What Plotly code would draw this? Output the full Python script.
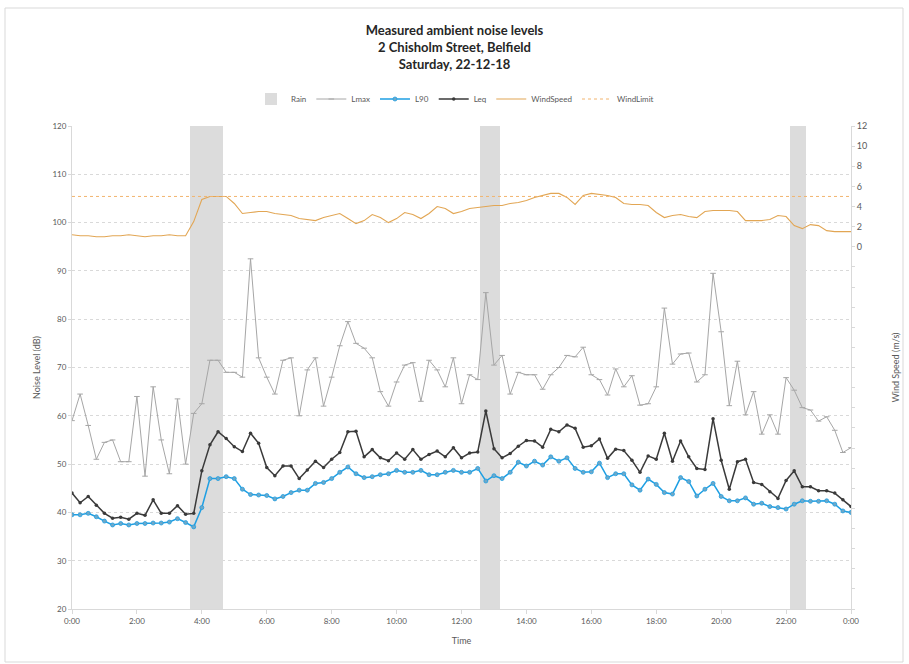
import plotly.graph_objects as go

# 15-minute intervals across the day, 0:00 to 24:00
hours = [i * 0.25 for i in range(97)]

lmax = [59, 64.5, 58, 51, 54.5, 55, 50.5, 50.5, 64, 47.5,
        66, 55, 48, 63.5, 50, 60.5, 62.5, 71.5, 71.5, 69,
        69, 68, 92.5, 72, 68, 64.5, 71.5, 72, 60, 69.5,
        72, 62, 68, 74.5, 79.5, 75, 74, 72, 65, 62,
        67, 70.5, 71, 63, 71.5, 69.5, 66, 72, 62.5, 68.5,
        67.5, 85.5, 70.5, 72.5, 64.5, 69, 68.5, 68.5, 65.5, 68.5,
        70, 72.5, 72.2, 74.2, 68.5, 67.5, 64.3, 69.7, 66, 68.3,
        62.2, 62.5, 66, 82.3, 70.7, 72.8, 73, 67, 68.5, 89.5,
        77.4, 62.1, 71.3, 60.2, 65, 56.2, 60.2, 56.2, 67.9, 65.3,
        61.7, 61.2, 58.9, 59.8, 57, 52.4, 53.4]

leq = [44, 42, 43.3, 41.5, 39.8, 38.8, 39, 38.6, 39.8, 39.4,
       42.6, 39.8, 39.8, 41.4, 39.6, 39.8, 48.6, 54, 56.7, 55.3,
       53.6, 52.6, 56.4, 54.3, 49.3, 47.6, 49.6, 49.6, 47, 48.8,
       50.6, 49.3, 51, 52.4, 56.7, 56.8, 51.5, 53, 51.3, 50.7,
       52.3, 51, 53, 51, 52, 52.7, 51.5, 53.4, 51.3, 52.3,
       52.5, 61, 53.2, 51.3, 52.2, 53.7, 54.9, 54.8, 53.5, 57.2,
       56.7, 58.1, 57.4, 53.5, 53.8, 55.2, 51.2, 53.1, 52.8, 50.8,
       48.3, 51.7, 51, 56.4, 50.6, 54.8, 51.5, 49.1, 48.9, 59.4,
       50.8, 44.8, 50.5, 51, 46.2, 45.8, 44.3, 42.9, 46.6, 48.6,
       45.3, 45.3, 44.5, 44.5, 44, 42.6, 41.2]

l90 = [39.5, 39.5, 39.8, 39.1, 38.2, 37.4, 37.7, 37.4, 37.7, 37.7,
       37.8, 37.8, 38, 38.7, 37.9, 37, 41, 47, 47, 47.4,
       47, 44.8, 43.7, 43.6, 43.5, 42.8, 43.3, 44.1, 44.6, 44.6,
       46, 46.2, 47, 48.3, 49.4, 48, 47.2, 47.4, 47.8, 48,
       48.7, 48.3, 48.3, 48.7, 47.8, 47.8, 48.3, 48.7, 48.3, 48.3,
       49.1, 46.5, 47.6, 47, 48.3, 50.4, 49.6, 50.6, 49.8, 51.5,
       50.6, 51.3, 49.1, 48.3, 48.4, 50.2, 47.2, 48, 48, 45.7,
       44.6, 46.9, 45.8, 44.1, 43.8, 47.2, 46.4, 43.4, 44.8, 46,
       43.3, 42.4, 42.4, 43, 41.7, 41.9, 41.2, 41, 40.7, 41.7,
       42.4, 42.3, 42.3, 42.4, 41.7, 40.3, 40]

wind_speed = [1.2, 1.1, 1.1, 1.0, 1.0, 1.1, 1.1, 1.2, 1.1, 1.0,
              1.1, 1.1, 1.2, 1.1, 1.1, 2.5, 4.7, 5.0, 5.0, 5.0,
              4.3, 3.3, 3.4, 3.5, 3.5, 3.3, 3.2, 3.1, 2.8, 2.7,
              2.6, 2.9, 3.1, 3.3, 2.8, 2.3, 2.6, 3.2, 2.9, 2.4,
              2.8, 3.4, 3.2, 2.8, 3.3, 4.0, 3.8, 3.3, 3.5, 3.8,
              3.9, 4.0, 4.1, 4.1, 4.3, 4.4, 4.6, 4.9, 5.1, 5.3,
              5.3, 4.9, 4.2, 5.1, 5.3, 5.2, 5.1, 4.9, 4.3, 4.2,
              4.2, 4.1, 3.4, 2.9, 3.1, 3.2, 3.0, 2.9, 3.5, 3.6,
              3.6, 3.6, 3.5, 2.6, 2.6, 2.6, 2.7, 3.1, 3.0, 2.1,
              1.8, 2.2, 2.1, 1.6, 1.5, 1.5, 1.5]

wind_limit = [5.0] * len(hours)

# rain periods (hours of the day)
rain_start = [3.62, 12.57, 22.12]
rain_end = [4.65, 13.20, 22.62]

tick_hours = list(range(0, 25, 2))
tick_labels = ["0:00", "2:00", "4:00", "6:00", "8:00", "10:00", "12:00",
               "14:00", "16:00", "18:00", "20:00", "22:00", "0:00"]

FONT = "Lato, 'Open Sans', sans-serif"
GREY_TXT = "#595959"

# plot area in pixels
L, R, T, B = 72, 851, 126, 609
W, H = 909, 664
PW, PH = R - L, B - T

fig = go.Figure()

# Rain shading as full-height columns
fig.add_trace(go.Bar(
    name="Rain",
    x=[(s + e) / 2 for s, e in zip(rain_start, rain_end)],
    width=[e - s for s, e in zip(rain_start, rain_end)],
    y=[100] * len(rain_start), base=20,
    marker=dict(color="#DCDCDC", line=dict(width=0)),
    yaxis="y",
))

fig.add_trace(go.Scatter(
    name="Lmax", x=hours, y=lmax, mode="lines+markers",
    line=dict(color="#A6A6A6", width=1),
    marker=dict(symbol="line-ew", size=4, color="#A6A6A6",
                line=dict(color="#A6A6A6", width=1)),
))

fig.add_trace(go.Scatter(
    name="L90", x=hours, y=l90, mode="lines+markers",
    line=dict(color="#1E9FE3", width=1.5),
    marker=dict(symbol="circle", size=4, color="#6FA8C8",
                line=dict(color="#1E9FE3", width=0.8)),
))

fig.add_trace(go.Scatter(
    name="Leq", x=hours, y=leq, mode="lines+markers",
    line=dict(color="#3A3A3A", width=1.5),
    marker=dict(symbol="circle", size=3.5, color="#3A3A3A"),
))

fig.add_trace(go.Scatter(
    name="WindSpeed", x=hours, y=wind_speed, mode="lines",
    line=dict(color="#E2A654", width=1.1),
    yaxis="y2",
))

fig.add_trace(go.Scatter(
    name="WindLimit", x=hours, y=wind_limit, mode="lines",
    line=dict(color="#F2B46E", width=1, dash="dot"),
    yaxis="y2",
))

right_ticks = list(range(-36, 13, 2))
right_text = [str(v) if v >= 0 else "" for v in right_ticks]

fig.update_layout(
    width=W, height=H,
    margin=dict(l=L, r=W - R, t=T, b=H - B, autoexpand=False),
    paper_bgcolor="white", plot_bgcolor="white",
    font=dict(family=FONT, size=8, color=GREY_TXT),
    bargap=0,
    title=dict(
        text="<b>Measured ambient noise levels<br>2 Chisholm Street, Belfield<br>Saturday, 22-12-18</b>",
        x=0.5, xref="container", xanchor="center",
        y=1 - 35 / H, yref="container", yanchor="top",
        font=dict(family=FONT, size=13, color="#262626"),
    ),
    legend=dict(
        orientation="h", x=(455 - L) / PW, xanchor="center",
        y=1 + (T - 99) / PH, yanchor="middle",
        font=dict(size=8, color=GREY_TXT),
        bgcolor="rgba(0,0,0,0)",
    ),
    xaxis=dict(
        range=[0, 24], tickvals=tick_hours, ticktext=tick_labels,
        tickangle=0,
        showgrid=False, zeroline=False,
        showline=True, linecolor="#D9D9D9", linewidth=1,
        ticks="outside", ticklen=4, tickcolor="#D9D9D9",
        title=dict(text="Time", font=dict(size=9, color=GREY_TXT), standoff=13),
        tickfont=dict(size=8, color=GREY_TXT),
    ),
    yaxis=dict(
        range=[20, 120], dtick=10, tick0=20,
        showgrid=True, gridcolor="#D9D9D9", griddash="dot", gridwidth=1,
        zeroline=False,
        showline=True, linecolor="#D9D9D9", linewidth=1,
        ticks="outside", ticklen=3, tickcolor="#D9D9D9",
        title=dict(text="Noise Level (dB)", font=dict(size=9, color=GREY_TXT), standoff=10),
        tickfont=dict(size=8, color=GREY_TXT),
    ),
    yaxis2=dict(
        overlaying="y", side="right",
        range=[-36, 12], tickvals=right_ticks, ticktext=right_text,
        showgrid=False, zeroline=False,
        showline=True, linecolor="#D9D9D9", linewidth=1,
        ticks="outside", ticklen=3, tickcolor="#D9D9D9",
        title=dict(text="Wind Speed (m/s)", font=dict(size=9, color=GREY_TXT), standoff=26),
        tickfont=dict(size=9, color=GREY_TXT),
    ),
    shapes=[dict(
        type="rect", xref="paper", yref="paper",
        x0=(5 - L) / PW, x1=(903 - L) / PW,
        y0=-(662 - B) / PH, y1=1 + (T - 8) / PH,
        line=dict(color="#D9D9D9", width=1), fillcolor="rgba(0,0,0,0)",
        layer="below",
    )],
)

fig.write_html("out.html")
